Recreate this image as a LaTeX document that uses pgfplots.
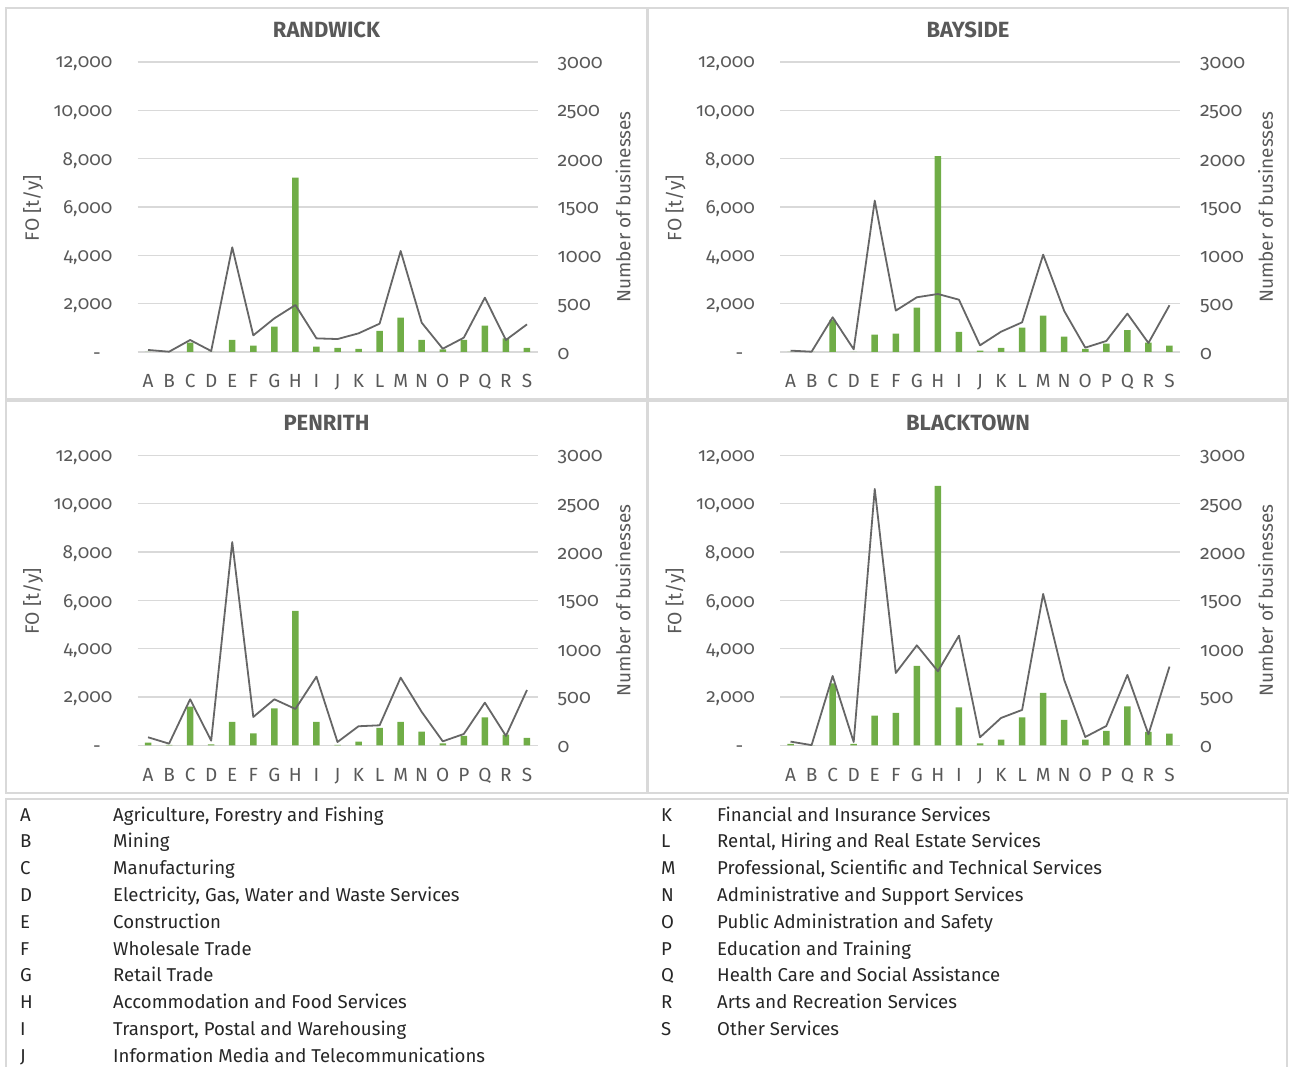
\documentclass[border=0pt]{standalone}
\usepackage{fontspec}
\setmainfont{Fira Sans}[Numbers=OldStyle]
\usepackage{pgfplots}
\pgfplotsset{compat=1.18}
\usepackage{pgfplotstable}
\usetikzlibrary{calc}

\definecolor{bargreen}{HTML}{70AD47}
\definecolor{linegray}{HTML}{666666}
\definecolor{gridgray}{HTML}{D9D9D9}
\definecolor{txtgray}{HTML}{595959}
\definecolor{legtxt}{HTML}{262626}

\pgfplotstableread{
x fo nb
0 10 21
1 0 3
2 386 124
3 0 10
4 497 1083
5 262 172
6 1048 348
7 7214 486
8 221 141
9 166 134
10 124 193
11 869 293
12 1421 1045
13 497 303
14 110 34
15 497 148
16 1090 562
17 566 124
18 166 286
}\randwick

\pgfplotstableread{
x fo nb
0 10 14
1 0 3
2 1324 359
3 0 28
4 717 1566
5 759 428
6 1834 566
7 8110 600
8 828 541
9 55 69
10 166 210
11 1007 307
12 1503 1007
13 634 424
14 124 45
15 345 114
16 910 397
17 386 93
18 262 483
}\bayside

\pgfplotstableread{
x fo nb
0 110 83
1 20 17
2 1600 476
3 40 48
4 966 2103
5 497 293
6 1531 476
7 5559 376
8 966 710
9 20 34
10 152 197
11 717 207
12 966 700
13 566 345
14 83 41
15 386 117
16 1159 441
17 441 97
18 303 572
}\penrith

\pgfplotstableread{
x fo nb
0 55 38
1 0 2
2 2566 717
3 55 34
4 1228 2652
5 1338 748
6 3283 1034
7 10731 766
8 1572 1134
9 83 83
10 234 283
11 1159 366
12 2166 1566
13 1048 676
14 234 86
15 593 200
16 1614 728
17 552 114
18 483 814
}\blacktown

\pgfplotsset{
  panelbase/.style={
    scale only axis, width=400pt, height=290pt,
    xmin=-0.5, xmax=18.5, ymin=0,
    axis line style={draw=none},
    major tick length=0pt, tick style={draw=none},
    scaled y ticks=false,
    clip=false,
  },
}

\newcommand{\panel}[6]{%
  % #1 plot left x, #2 plot bottom y, #3 table, #4 title, #5 panel center x, #6 title y
  \begin{axis}[panelbase, at={(#1pt,#2pt)}, anchor=south west,
      ymax=12000, ytick={0,2000,4000,6000,8000,10000,12000},
      yticklabels={{-\phantom{0}},{2,000},{4,000},{6,000},{8,000},{10,000},{12,000}},
      ymajorgrids, grid style={gridgray, line width=1.2pt},
      xtick={0,...,18},
      xticklabels={A,B,C,D,E,F,G,H,I,J,K,L,M,N,O,P,Q,R,S},
      xticklabel style={anchor=base, yshift=-36pt, inner sep=0pt, text=txtgray, font=\fontsize{19}{19}\selectfont},
      yticklabel style={anchor=east, inner sep=0pt, xshift=-25pt, yshift=-2pt, text=txtgray, font=\fontsize{19}{19}\selectfont},
    ]
    \addplot[ybar, bar width=6.5pt, fill=bargreen, draw=none] table[x=x, y=fo] {#3};
  \end{axis}
  \begin{axis}[panelbase, at={(#1pt,#2pt)}, anchor=south west,
      ymax=3000, ytick={0,500,1000,1500,2000,2500,3000},
      yticklabels={0,500,1000,1500,2000,2500,3000},
      yticklabel pos=right, xtick=\empty,
      yticklabel style={anchor=west, inner sep=0pt, xshift=20pt, yshift=-2pt, text=txtgray, font=\fontsize{19.5}{19.5}\selectfont},
    ]
    \addplot[linegray, line width=1.8pt, line join=round, mark=none] table[x=x, y=nb] {#3};
  \end{axis}
  \node[text=txtgray, font=\bfseries\fontsize{22}{22}\selectfont] at (#5pt,#6pt) {#4};
  \node[rotate=90, text=txtgray, font=\fontsize{19.3}{19.3}\selectfont] at ($(#1pt,#2pt)+(-104.5pt,144pt)$) {FO [t/y]};
  \node[rotate=90, text=txtgray, font=\fontsize{19}{19}\selectfont] at ($(#1pt,#2pt)+(485.5pt,145pt)$) {Number of businesses};
}

\begin{document}
\begin{tikzpicture}[x=1pt, y=1pt]
  \path[use as bounding box] (0,0) rectangle (1289,1066);
  % panel frames
  \draw[gridgray, line width=1.5pt] (6,1058) rectangle (647,667);
  \draw[gridgray, line width=1.5pt] (648,1058) rectangle (1288,667);
  \draw[gridgray, line width=1.5pt] (6,665) rectangle (647,273);
  \draw[gridgray, line width=1.5pt] (648,665) rectangle (1288,273);
  \draw[gridgray, line width=1.5pt] (6,-10) rectangle (1287,267);

  \panel{137.5}{714}{\randwick}{RANDWICK}{326.5}{1036}
  \panel{780}{714}{\bayside}{BAYSIDE}{968}{1036}
  \panel{137.5}{320.7}{\penrith}{PENRITH}{326.5}{643}
  \panel{780}{320.7}{\blacktown}{BLACKTOWN}{968}{643}

  % legend table
  \begin{scope}[every node/.style={anchor=base west, inner sep=0pt, text=legtxt, font=\fontsize{18.6}{18.6}\selectfont}]
    \foreach \k/\l/\d in {0/A/{Agriculture, Forestry and Fishing},1/B/Mining,2/C/Manufacturing,3/D/{Electricity, Gas, Water and Waste Services},4/E/Construction,5/F/Wholesale Trade,6/G/Retail Trade,7/H/Accommodation and Food Services,8/I/{Transport, Postal and Warehousing},9/J/Information Media and Telecommunications}{
      \node at (20, {245 - 26.8*\k}) {\l};
      \node at (113, {245 - 26.8*\k}) {\d};
    }
    \foreach \k/\l/\d in {0/K/Financial and Insurance Services,1/L/{Rental, Hiring and Real Estate Services},2/M/{Professional, Scientific and Technical Services},3/N/Administrative and Support Services,4/O/Public Administration and Safety,5/P/Education and Training,6/Q/Health Care and Social Assistance,7/R/Arts and Recreation Services,8/S/Other Services}{
      \node at (661, {245 - 26.8*\k}) {\l};
      \node at (717, {245 - 26.8*\k}) {\d};
    }
  \end{scope}
\end{tikzpicture}
\end{document}
